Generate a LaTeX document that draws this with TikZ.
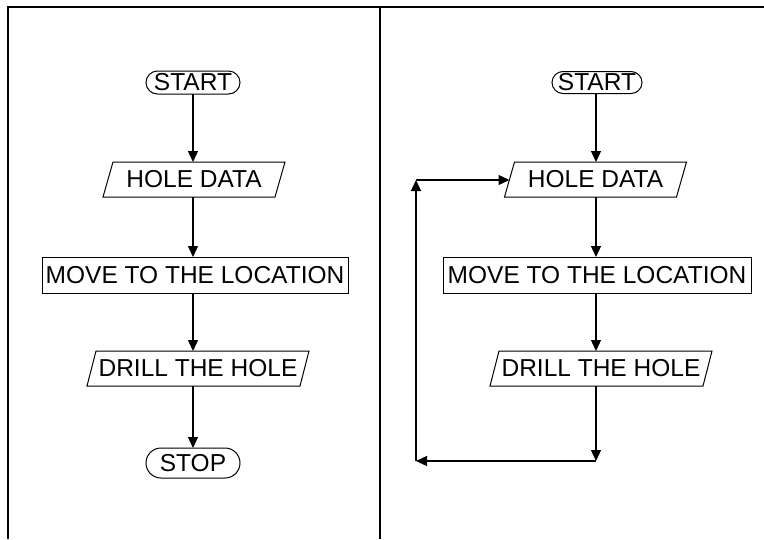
\documentclass[tikz,border=0pt]{standalone}
\usepackage{fontspec}
\setmainfont{Liberation Sans}
\usetikzlibrary{arrows.meta}
\begin{document}
\begin{tikzpicture}[x=1pt,y=-1pt,
  every node/.style={font=\fontsize{24.5}{27}\selectfont, inner sep=0pt, outer sep=0pt},
  term/.style={draw, line width=1pt, minimum width=94pt, minimum height=#1, rounded corners=#1/2},
  procbox/.style={draw, line width=1pt, minimum height=36pt},
  iobox/.style={minimum height=35pt},
  iodraw/.style={line width=1pt, line join=miter},
  arr/.style={line width=1.3pt, -{Triangle[length=11pt,width=10pt]}},
  frame/.style={line width=1.5pt}]
\useasboundingbox (0,0) rectangle (764,539);
% frame
\draw[frame] (8,539) -- (8,7) -- (764,7);
\draw[frame] (380,7) -- (380,539);
% ---------- left chart
\coordinate (axL) at (193,0);
\node[term=23pt] (stL) at (193,82.5) {START};
\node[iobox, minimum width=172pt] (hdL) at (194,179.5) {HOLE DATA};
\draw[iodraw] ([xshift=5pt]hdL.north west) -- ([xshift=5pt]hdL.north east) -- ([xshift=-5pt]hdL.south east) -- ([xshift=-5pt]hdL.south west) -- cycle;
\node[procbox, minimum width=306pt] (mvL) at (195,275) {MOVE TO THE LOCATION};
\node[iobox, minimum width=213pt] (drL) at (198,368.5) {DRILL THE HOLE};
\draw[iodraw] ([xshift=4.5pt]drL.north west) -- ([xshift=4.5pt]drL.north east) -- ([xshift=-4.5pt]drL.south east) -- ([xshift=-4.5pt]drL.south west) -- cycle;
\node[term=30pt] (spL) at (193,463) {STOP};
\draw[arr] (axL |- stL.south) -- (axL |- hdL.north);
\draw[arr] (axL |- hdL.south) -- (axL |- mvL.north);
\draw[arr] (axL |- mvL.south) -- (axL |- drL.north);
\draw[arr] (axL |- drL.south) -- (axL |- spL.north);
% ---------- right chart
\coordinate (axR) at (596,0);
\node[term=22pt, minimum width=90pt] (stR) at (597,82.5) {START};
\node[iobox, minimum width=172pt] (hdR) at (595.5,179.5) {HOLE DATA};
\draw[iodraw] ([xshift=5pt]hdR.north west) -- ([xshift=5pt]hdR.north east) -- ([xshift=-5pt]hdR.south east) -- ([xshift=-5pt]hdR.south west) -- cycle;
\node[procbox, minimum width=308pt] (mvR) at (597,275) {MOVE TO THE LOCATION};
\node[iobox, minimum width=213pt] (drR) at (601,368.5) {DRILL THE HOLE};
\draw[iodraw] ([xshift=4.5pt]drR.north west) -- ([xshift=4.5pt]drR.north east) -- ([xshift=-4.5pt]drR.south east) -- ([xshift=-4.5pt]drR.south west) -- cycle;
\coordinate (lpB) at (416,461);
\coordinate (lpT) at (416,180);
\draw[arr] (axR |- stR.south) -- (axR |- hdR.north);
\draw[arr] (axR |- hdR.south) -- (axR |- mvR.north);
\draw[arr] (axR |- mvR.south) -- (axR |- drR.north);
\draw[arr] (axR |- drR.south) -- (axR |- lpB);
\draw[arr] (axR |- lpB) -- (lpB);
\draw[arr] (lpB) -- (lpT);
\draw[arr] (lpT) -- (lpT -| hdR.west);
\end{tikzpicture}
\end{document}
